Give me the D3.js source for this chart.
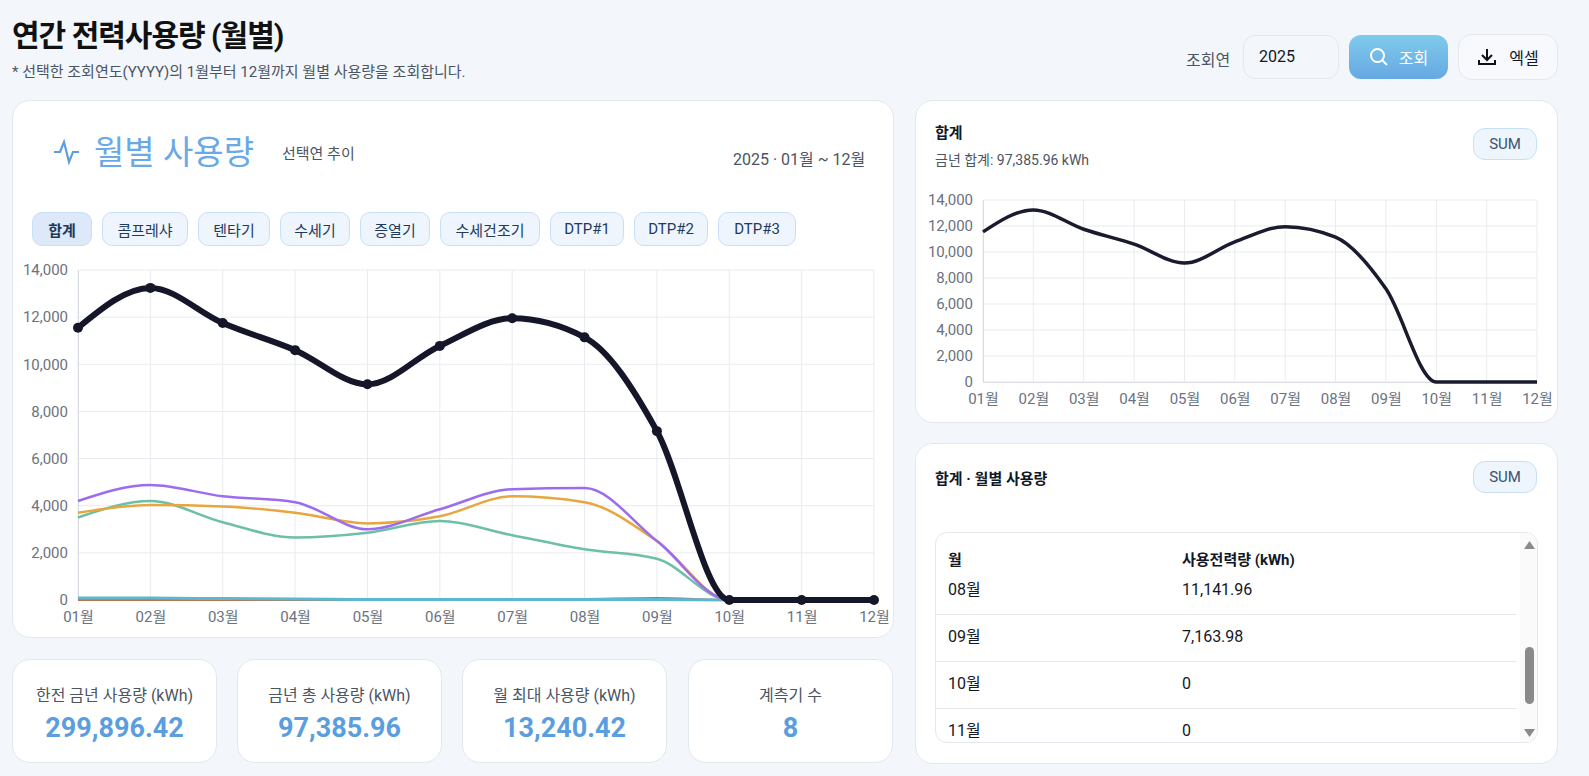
<!DOCTYPE html>
<html><head><meta charset="utf-8">
<script src="https://cdn.jsdelivr.net/npm/d3@7"></script>
<style>
*{box-sizing:border-box}
html{overflow:hidden;width:1589px;height:776px}
body{margin:0;width:1589px;height:776px;background:#f3f6fb;font-family:Roboto,"Noto Sans CJK KR",sans-serif;position:relative;overflow:hidden;color:#111827}
.abs{position:absolute}
.card{position:absolute;background:#fff;border:1px solid #e3e8ef;border-radius:18px}
h1{position:absolute;left:12px;top:11px;margin:0;font-size:30px;font-weight:700;letter-spacing:-1px;color:#111}
.sub{left:12px;top:60px;font-size:15px;color:#4b5563}
.chip{position:absolute;top:212px;height:34px;border:1px solid #c9dff5;background:#eef5fd;border-radius:10px;font-size:15px;color:#1f3a5c;display:flex;align-items:center;justify-content:center}
.stat{top:659px;width:205px;height:104px;text-align:center}
.stat .l{margin-top:22px;font-size:16px;color:#4b5563}
.stat .v{margin-top:6px;font-size:27px;font-weight:700;color:#5b9ee0}
.sum{position:absolute;width:64px;height:32px;border:1px solid #c9dff5;background:#eef5fd;border-radius:12px;font-size:15px;color:#3a5170;display:flex;align-items:center;justify-content:center}
.row{position:absolute;left:0;width:580px;height:47px;border-bottom:1px solid #e5e7eb;font-size:16px}
.row span{position:absolute;top:13px;line-height:18px}
</style></head><body>
<h1>연간 전력사용량 (월별)</h1>
<div class="abs sub">* 선택한 조회연도(YYYY)의 1월부터 12월까지 월별 사용량을 조회합니다.</div>
<div class="abs" style="left:1186px;top:47px;font-size:16px;color:#4b5563">조회연</div>
<div class="abs" style="left:1243px;top:35px;width:96px;height:44px;border:1px solid #e3e8ef;border-radius:12px;background:#f3f6fb;padding:11px 15px;font-size:16px">2025</div>
<div class="abs" style="left:1349px;top:35px;width:99px;height:44px;border-radius:12px;background:linear-gradient(#7fcbeb,#66a8e3);color:#fff;font-size:16px;display:flex;align-items:center;justify-content:center;gap:10px">
<svg width="20" height="20"><circle cx="8.5" cy="8.5" r="6.5" fill="none" stroke="#fff" stroke-width="2"/><line x1="13" y1="13" x2="18" y2="18" stroke="#fff" stroke-width="2"/></svg><span>조회</span></div>
<div class="abs" style="left:1458px;top:34px;width:100px;height:46px;border:1px solid #e3e8ef;border-radius:14px;background:#f7f9fc;font-size:16px;display:flex;align-items:center;justify-content:center;gap:12px">
<svg width="20" height="20" fill="none" stroke="#111" stroke-width="2"><path d="M10 2v11M5 8l5 5 5-5M2 13v4h16v-4"/></svg><span>엑셀</span></div>

<div class="card" style="left:12px;top:100px;width:882px;height:538px"></div>
<svg class="abs" style="left:52px;top:136px" width="30" height="30" fill="none" stroke="#5b9ee0" stroke-width="2.2"><path d="M2 16h6l4-10 5 20 4-10h6"/></svg>
<div class="abs" style="left:94px;top:126px;font-size:33px;color:#6aa8e6">월별 사용량</div>
<div class="abs" style="left:282px;top:142px;font-size:15px;color:#4b5563">선택연 추이</div>
<div class="abs" style="left:733px;top:146px;font-size:16px;color:#4b5563">2025 · 01월 ~ 12월</div>
<div id="chips"></div>

<div class="card stat" style="left:12px"><div class="l">한전 금년 사용량 (kWh)</div><div class="v">299,896.42</div></div>
<div class="card stat" style="left:237px"><div class="l">금년 총 사용량 (kWh)</div><div class="v">97,385.96</div></div>
<div class="card stat" style="left:462px"><div class="l">월 최대 사용량 (kWh)</div><div class="v">13,240.42</div></div>
<div class="card stat" style="left:688px"><div class="l">계측기 수</div><div class="v">8</div></div>

<div class="card" style="left:915px;top:100px;width:643px;height:323px"></div>
<div class="abs" style="left:935px;top:121px;font-size:15px;font-weight:700">합계</div>
<div class="abs" style="left:935px;top:149px;font-size:14px;color:#4b5563">금년 합계: 97,385.96 kWh</div>
<div class="sum" style="left:1473px;top:128px">SUM</div>

<div class="card" style="left:915px;top:443px;width:643px;height:321px"></div>
<div class="abs" style="left:935px;top:467px;font-size:15px;font-weight:700">합계 · 월별 사용량</div>
<div class="sum" style="left:1473px;top:461px">SUM</div>
<div class="abs" style="left:935px;top:532px;width:603px;height:211px;border:1px solid #e3e8ef;border-radius:12px;overflow:hidden;background:#fff">
 <div class="abs" style="left:12px;top:15px;font-size:15px;font-weight:700">월</div>
 <div class="abs" style="left:246px;top:15px;font-size:15px;font-weight:700">사용전력량 (kWh)</div>
 <div id="rows"></div>
 <div class="abs" style="left:584px;top:0;width:19px;height:211px;background:#fafafa"></div>
 <svg class="abs" style="left:584px;top:0" width="19" height="211"><path d="M4 16l5.5-8 5.5 8z" fill="#8a8a8a"/><path d="M4 196l5.5 8 5.5-8z" fill="#8a8a8a"/><rect x="5" y="114" width="9" height="57" rx="4.5" fill="#8a8a8a"/></svg>
</div>

<svg id="main" class="abs" style="left:0;top:0" width="900" height="650"></svg>
<svg id="side" class="abs" style="left:900px;top:0;pointer-events:none" width="680" height="430"></svg>
<script>
const months=["01월","02월","03월","04월","05월","06월","07월","08월","09월","10월","11월","12월"];
const chipLabels=["합계","콤프레샤","텐타기","수세기","증열기","수세건조기","DTP#1","DTP#2","DTP#3"];
const totalVals=[11550,13240.42,11750,10600,9150,10780,11950,11141.96,7163.98,0,0,0];
const purpleVals=[4200,4880,4400,4150,3000,3850,4700,4750,2500,0,0,0];
const orangeVals=[3700,4030,3970,3700,3250,3550,4400,4150,2500,0,0,0];
const greenVals=[3500,4200,3300,2650,2850,3350,2750,2150,1750,0,0,0];
const cyanVals=[90,80,60,40,20,20,20,20,20,0,0,0];
const redVals=[10,10,10,10,10,10,20,40,80,0,0,0];
const lgreenVals=[5,5,5,5,5,5,5,5,5,0,0,0];
const yTicks=[0,2000,4000,6000,8000,10000,12000,14000];
const tableRows=[["08월","11,141.96"],["09월","7,163.98"],["10월","0"],["11월","0"]];

const chipW=[60,86,72,70,70,100,74,74,78];
let cx=32;
d3.select("#chips").selectAll("div").data(chipLabels).join("div").attr("class","chip")
 .style("left",(d,i)=>{const l=cx;cx+=chipW[i]+10;return l+"px"}).style("width",(d,i)=>chipW[i]+"px")
 .style("font-weight",(d,i)=>i==0?700:400).style("background",(d,i)=>i==0?"#dde9f8":"#eef5fd").text(d=>d);
d3.select("#rows").selectAll("div").data(tableRows).join("div").attr("class","row")
 .style("top",(d,i)=>(35+i*47)+"px").style("border-bottom",(d,i)=>i==3?"none":null)
 .html(d=>`<span style="left:12px">${d[0]}</span><span style="left:246px">${d[1]}</span>`);

function chart(svg,x0,x1,y0,y1,series,fs){
 const x=d3.scalePoint().domain(months).range([x0,x1]);
 const y=d3.scaleLinear().domain([0,14000]).range([y0,y1]);
 const g=svg.append("g");
 g.selectAll(".gy").data(yTicks).join("line").attr("x1",x0).attr("x2",x1).attr("y1",y).attr("y2",y).attr("stroke","#e8ebef");
 g.selectAll(".gx").data(months).join("line").attr("x1",x).attr("x2",x).attr("y1",y0).attr("y2",y1).attr("stroke","#e8ebef");
 const ya=g.append("g").attr("transform",`translate(${x0},0)`).call(d3.axisLeft(y).tickValues(yTicks).tickSize(0).tickPadding(10).tickFormat(d3.format(",")));
 const xa=g.append("g").attr("transform",`translate(0,${y0})`).call(d3.axisBottom(x).tickSize(0).tickPadding(11));
 [ya,xa].forEach(a=>{a.select(".domain").attr("stroke","#d9dde3");a.selectAll("text").attr("fill","#6b7280").style("font-size",fs+"px").style("font-family","Roboto,'Noto Sans CJK KR'")});
 const line=d3.line().x((d,i)=>x(months[i])).y(d=>y(d)).curve(d3.curveMonotoneX);
 series.forEach(s=>{
  g.append("path").attr("d",line(s.v)).attr("fill","none").attr("stroke",s.c).attr("stroke-width",s.w).attr("stroke-linejoin","round");
  if(s.dots) g.selectAll(null).data(s.v).join("circle").attr("cx",(d,i)=>x(months[i])).attr("cy",y).attr("r",5).attr("fill",s.c);
 });
}
chart(d3.select("#main"),78,874,600,270,[
 {v:lgreenVals,c:"#4caf50",w:2},{v:redVals,c:"#e0604a",w:2},{v:cyanVals,c:"#5ab8d0",w:3},
 {v:greenVals,c:"#6dbfa8",w:2.5},{v:orangeVals,c:"#e8a640",w:2.5},{v:purpleVals,c:"#9b6cf0",w:2.5},
 {v:totalVals,c:"#151629",w:6,dots:true}],15);
chart(d3.select("#side"),83,637,382,200,[{v:totalVals,c:"#1a1b2e",w:3.5}],15);
</script>
</body></html>
